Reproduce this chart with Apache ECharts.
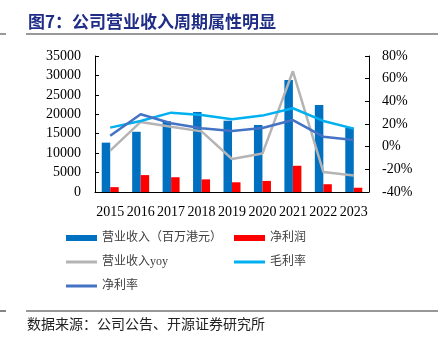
<!DOCTYPE html>
<html><head><meta charset="utf-8">
<script src="https://cdn.jsdelivr.net/npm/echarts@6/dist/echarts.min.js"></script>
<style>html,body{margin:0;padding:0;background:#fff}#c{width:439px;height:350px}</style>
</head><body><div id="c"></div>
<script>
const years = ['2015','2016','2017','2018','2019','2020','2021','2022','2023'];
const revenue = [12700, 15500, 18200, 20600, 18350, 17250, 28800, 22400, 16550];
const netProfit = [1250, 4350, 3800, 3250, 2500, 2850, 6750, 2000, 1100];
const revenueYoy = [-3.5, 21.8, 17.5, 13.5, -10.9, -6.1, 66.5, -22.3, -25.5];
const grossMargin = [16.8, 22.7, 30.0, 28.0, 24.2, 27.4, 33.9, 22.7, 15.9];
const netMargin = [9.7, 28.6, 20.6, 16.2, 13.9, 16.5, 23.5, 8.8, 5.9];
const leftTicks = {min: 0, max: 35000, interval: 5000};
const rightTicks = {min: -40, max: 80, interval: 20};

const names = ['营业收入（百万港元）','净利润','营业收入yoy','毛利率','净利率'];
const colors = ['#0070C0','#FF0000','#B4B4B4','#00B0F0','#4472C4'];
const serif = 'Liberation Serif';
const cjk = 'Noto Sans CJK SC';
const mixed = '"Liberation Serif", "Noto Sans CJK SC"';

const chart = echarts.init(document.getElementById('c'), null, {renderer:'canvas'});
function lg(name, left, top, h){
  return {data:[name], left:left, top:top, padding:0, itemWidth:31, itemHeight:h, icon:'rect', itemGap:0,
    textStyle:{fontFamily:mixed, fontSize:12, color:'#404040', padding:[0,0,0,0]}, selectedMode:false};
}
chart.setOption({
  animation:false,
  color: colors,
  grid:{left:95, right:70, top:56, bottom:158},
  legend:[
    lg(names[0], 66, 232, 6),
    lg(names[1], 234, 232, 6),
    lg(names[2], 66, 256, 3),
    lg(names[3], 234, 256, 3),
    lg(names[4], 66, 280, 3)
  ],
  xAxis:{type:'category', data:years, boundaryGap:true,
    axisLine:{lineStyle:{color:'#000', width:1}},
    axisTick:{inside:true, length:4, lineStyle:{color:'#000'}},
    axisLabel:{fontFamily:serif, fontSize:14, color:'#000', margin:13, interval:0}},
  yAxis:[
    {type:'value', min:leftTicks.min, max:leftTicks.max, interval:leftTicks.interval,
      axisLine:{show:true, lineStyle:{color:'#000'}},
      axisTick:{show:true, inside:true, length:4, lineStyle:{color:'#000'}},
      splitLine:{show:false},
      axisLabel:{fontFamily:serif, fontSize:14, color:'#000', margin:14, formatter:function(v){return String(v);}}},
    {type:'value', min:rightTicks.min, max:rightTicks.max, interval:rightTicks.interval, position:'right',
      axisLine:{show:true, lineStyle:{color:'#000'}},
      axisTick:{show:true, inside:true, length:4, lineStyle:{color:'#000'}},
      splitLine:{show:false},
      axisLabel:{fontFamily:serif, fontSize:14, color:'#000', margin:13, formatter:'{value}%'}}
  ],
  series:[
    {name:names[0], type:'bar', data:revenue, yAxisIndex:0, barWidth:8.5, barGap:'0%', itemStyle:{color:colors[0]}},
    {name:names[1], type:'bar', data:netProfit, yAxisIndex:0, barWidth:8.5, barGap:'0%', itemStyle:{color:colors[1]}},
    {name:names[2], type:'line', data:revenueYoy, yAxisIndex:1, showSymbol:false, symbol:'none', lineStyle:{width:2.5, color:colors[2]}, itemStyle:{color:colors[2]}},
    {name:names[3], type:'line', data:grossMargin, yAxisIndex:1, showSymbol:false, symbol:'none', lineStyle:{width:2.5, color:colors[3]}, itemStyle:{color:colors[3]}},
    {name:names[4], type:'line', data:netMargin, yAxisIndex:1, showSymbol:false, symbol:'none', lineStyle:{width:2.5, color:colors[4]}, itemStyle:{color:colors[4]}}
  ],
  graphic:[
    {type:'text', left:28, top:13, style:{text:'图7：公司营业收入周期属性明显', fontFamily:cjk, fontSize:17, fontWeight:'bold', fill:'#1F2D86'}},
    {type:'line', shape:{x1:26, y1:34, x2:438, y2:34}, style:{stroke:'#999', lineWidth:2}},
    {type:'line', shape:{x1:0, y1:34, x2:6, y2:34}, style:{stroke:'#999', lineWidth:2}},
    {type:'line', shape:{x1:26, y1:311, x2:438, y2:311}, style:{stroke:'#333', lineWidth:1.2}},
    {type:'line', shape:{x1:0, y1:311, x2:6, y2:311}, style:{stroke:'#333', lineWidth:1.2}},
    {type:'text', left:27, top:317, style:{text:'数据来源：公司公告、开源证券研究所', fontFamily:cjk, fontSize:14, fill:'#222'}}
  ]
});
</script></body></html>
